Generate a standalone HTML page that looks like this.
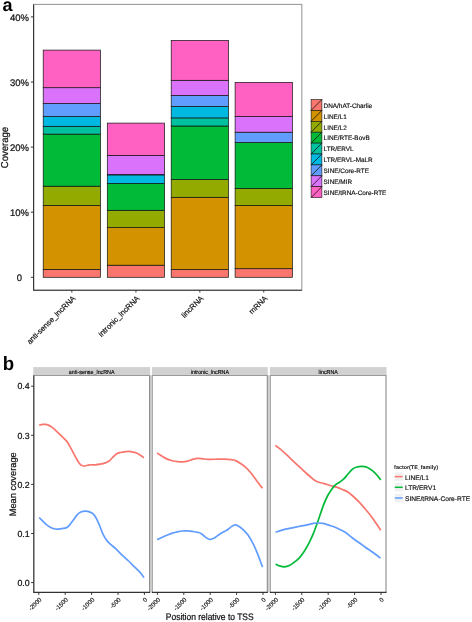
<!DOCTYPE html>
<html><head><meta charset="utf-8"><title>figure</title>
<style>
html,body{margin:0;padding:0;background:#fff;}
body{width:472px;height:622px;overflow:hidden;}
svg{display:block;filter:blur(0.35px);font-family:"Liberation Sans", sans-serif;text-rendering:geometricPrecision;}
</style></head>
<body>
<svg width="472" height="622" viewBox="0 0 472 622">
<rect width="472" height="622" fill="#fff"/>
<rect x="33.6" y="4.4" width="268.2" height="285.8" fill="#fff" stroke="#9a9a9a" stroke-width="1.1"/>
<rect x="43.2" y="269.4" width="57.3" height="7.9" fill="#F8766D" stroke="#111" stroke-width="0.7"/>
<rect x="43.2" y="205.4" width="57.3" height="64" fill="#D39200" stroke="#111" stroke-width="0.7"/>
<rect x="43.2" y="186.2" width="57.3" height="19.2" fill="#93AA00" stroke="#111" stroke-width="0.7"/>
<rect x="43.2" y="134.1" width="57.3" height="52.1" fill="#00BA38" stroke="#111" stroke-width="0.7"/>
<rect x="43.2" y="126.3" width="57.3" height="7.8" fill="#00C19F" stroke="#111" stroke-width="0.7"/>
<rect x="43.2" y="116.5" width="57.3" height="9.8" fill="#00B9E3" stroke="#111" stroke-width="0.7"/>
<rect x="43.2" y="103.5" width="57.3" height="13" fill="#619CFF" stroke="#111" stroke-width="0.7"/>
<rect x="43.2" y="87.7" width="57.3" height="15.8" fill="#DB72FB" stroke="#111" stroke-width="0.7"/>
<rect x="43.2" y="50.1" width="57.3" height="37.6" fill="#FF61C3" stroke="#111" stroke-width="0.7"/>
<rect x="107.3" y="265.2" width="57.3" height="12.1" fill="#F8766D" stroke="#111" stroke-width="0.7"/>
<rect x="107.3" y="227.6" width="57.3" height="37.6" fill="#D39200" stroke="#111" stroke-width="0.7"/>
<rect x="107.3" y="210.3" width="57.3" height="17.3" fill="#93AA00" stroke="#111" stroke-width="0.7"/>
<rect x="107.3" y="183.4" width="57.3" height="26.9" fill="#00BA38" stroke="#111" stroke-width="0.7"/>
<rect x="107.3" y="174.9" width="57.3" height="8.5" fill="#00B9E3" stroke="#111" stroke-width="0.7"/>
<rect x="107.3" y="174.6" width="57.3" height="0.3" fill="#619CFF" stroke="#111" stroke-width="0.7"/>
<rect x="107.3" y="155.4" width="57.3" height="19.2" fill="#DB72FB" stroke="#111" stroke-width="0.7"/>
<rect x="107.3" y="123.1" width="57.3" height="32.3" fill="#FF61C3" stroke="#111" stroke-width="0.7"/>
<rect x="171.2" y="269.6" width="57.3" height="7.7" fill="#F8766D" stroke="#111" stroke-width="0.7"/>
<rect x="171.2" y="197.3" width="57.3" height="72.3" fill="#D39200" stroke="#111" stroke-width="0.7"/>
<rect x="171.2" y="179.5" width="57.3" height="17.8" fill="#93AA00" stroke="#111" stroke-width="0.7"/>
<rect x="171.2" y="126" width="57.3" height="53.5" fill="#00BA38" stroke="#111" stroke-width="0.7"/>
<rect x="171.2" y="117.9" width="57.3" height="8.1" fill="#00C19F" stroke="#111" stroke-width="0.7"/>
<rect x="171.2" y="106.4" width="57.3" height="11.5" fill="#00B9E3" stroke="#111" stroke-width="0.7"/>
<rect x="171.2" y="95.4" width="57.3" height="11" fill="#619CFF" stroke="#111" stroke-width="0.7"/>
<rect x="171.2" y="80.3" width="57.3" height="15.1" fill="#DB72FB" stroke="#111" stroke-width="0.7"/>
<rect x="171.2" y="40.4" width="57.3" height="39.9" fill="#FF61C3" stroke="#111" stroke-width="0.7"/>
<rect x="235.1" y="268.7" width="57.3" height="8.6" fill="#F8766D" stroke="#111" stroke-width="0.7"/>
<rect x="235.1" y="205.5" width="57.3" height="63.2" fill="#D39200" stroke="#111" stroke-width="0.7"/>
<rect x="235.1" y="188.5" width="57.3" height="17" fill="#93AA00" stroke="#111" stroke-width="0.7"/>
<rect x="235.1" y="142.5" width="57.3" height="46" fill="#00BA38" stroke="#111" stroke-width="0.7"/>
<rect x="235.1" y="132.2" width="57.3" height="10.3" fill="#619CFF" stroke="#111" stroke-width="0.7"/>
<rect x="235.1" y="116.5" width="57.3" height="15.7" fill="#DB72FB" stroke="#111" stroke-width="0.7"/>
<rect x="235.1" y="82.4" width="57.3" height="34.1" fill="#FF61C3" stroke="#111" stroke-width="0.7"/>
<path d="M33.6,4.4 V290.2 H301.8" fill="none" stroke="#333333" stroke-width="1.1"/>
<line x1="30.9" y1="277.3" x2="33.6" y2="277.3" stroke="#333333" stroke-width="1"/>
<text x="19.4" y="281.1" font-size="9.5" text-anchor="middle" fill="#111111" stroke="#111111" stroke-width="0.23">0</text>
<line x1="30.9" y1="212.2" x2="33.6" y2="212.2" stroke="#333333" stroke-width="1"/>
<text x="19.4" y="216" font-size="9.5" text-anchor="middle" fill="#111111" stroke="#111111" stroke-width="0.23">10%</text>
<line x1="30.9" y1="147.1" x2="33.6" y2="147.1" stroke="#333333" stroke-width="1"/>
<text x="19.4" y="150.9" font-size="9.5" text-anchor="middle" fill="#111111" stroke="#111111" stroke-width="0.23">20%</text>
<line x1="30.9" y1="82" x2="33.6" y2="82" stroke="#333333" stroke-width="1"/>
<text x="19.4" y="85.8" font-size="9.5" text-anchor="middle" fill="#111111" stroke="#111111" stroke-width="0.23">30%</text>
<line x1="30.9" y1="16.9" x2="33.6" y2="16.9" stroke="#333333" stroke-width="1"/>
<text x="19.4" y="20.7" font-size="9.5" text-anchor="middle" fill="#111111" stroke="#111111" stroke-width="0.23">40%</text>
<text x="8.4" y="147.5" font-size="10" text-anchor="middle" fill="#111111" stroke="#111111" stroke-width="0.24" transform="rotate(-90 8.4 147.5)" textLength="41.3" lengthAdjust="spacingAndGlyphs">Coverage</text>
<line x1="71.85" y1="290.2" x2="71.85" y2="292.5" stroke="#333333" stroke-width="1"/>
<text x="75.85" y="298.8" font-size="7.6" text-anchor="end" fill="#111111" stroke="#111111" stroke-width="0.19" transform="rotate(-45 75.85 298.8)">anti-sense_lncRNA</text>
<line x1="135.95" y1="290.2" x2="135.95" y2="292.5" stroke="#333333" stroke-width="1"/>
<text x="139.95" y="298.8" font-size="7.6" text-anchor="end" fill="#111111" stroke="#111111" stroke-width="0.19" transform="rotate(-45 139.95 298.8)">intronic_lncRNA</text>
<line x1="199.85" y1="290.2" x2="199.85" y2="292.5" stroke="#333333" stroke-width="1"/>
<text x="203.85" y="298.8" font-size="7.6" text-anchor="end" fill="#111111" stroke="#111111" stroke-width="0.19" transform="rotate(-45 203.85 298.8)">lincRNA</text>
<line x1="263.75" y1="290.2" x2="263.75" y2="292.5" stroke="#333333" stroke-width="1"/>
<text x="267.75" y="298.8" font-size="7.6" text-anchor="end" fill="#111111" stroke="#111111" stroke-width="0.19" transform="rotate(-45 267.75 298.8)">mRNA</text>
<rect x="311.1" y="99.5" width="10.8" height="10.9" fill="#F8766D" stroke="#111" stroke-width="0.6"/>
<line x1="311.1" y1="110.4" x2="321.9" y2="99.5" stroke="#111" stroke-width="0.8"/>
<text x="323.6" y="107.75" font-size="6.4" text-anchor="start" fill="#111111" stroke="#111111" stroke-width="0.16">DNA/hAT-Charlie</text>
<rect x="311.1" y="110.4" width="10.8" height="10.9" fill="#D39200" stroke="#111" stroke-width="0.6"/>
<line x1="311.1" y1="121.3" x2="321.9" y2="110.4" stroke="#111" stroke-width="0.8"/>
<text x="323.6" y="118.65" font-size="6.4" text-anchor="start" fill="#111111" stroke="#111111" stroke-width="0.16">LINE/L1</text>
<rect x="311.1" y="121.3" width="10.8" height="10.9" fill="#93AA00" stroke="#111" stroke-width="0.6"/>
<line x1="311.1" y1="132.2" x2="321.9" y2="121.3" stroke="#111" stroke-width="0.8"/>
<text x="323.6" y="129.55" font-size="6.4" text-anchor="start" fill="#111111" stroke="#111111" stroke-width="0.16">LINE/L2</text>
<rect x="311.1" y="132.2" width="10.8" height="10.9" fill="#00BA38" stroke="#111" stroke-width="0.6"/>
<line x1="311.1" y1="143.1" x2="321.9" y2="132.2" stroke="#111" stroke-width="0.8"/>
<text x="323.6" y="140.45" font-size="6.4" text-anchor="start" fill="#111111" stroke="#111111" stroke-width="0.16">LINE/RTE-BovB</text>
<rect x="311.1" y="143.1" width="10.8" height="10.9" fill="#00C19F" stroke="#111" stroke-width="0.6"/>
<line x1="311.1" y1="154" x2="321.9" y2="143.1" stroke="#111" stroke-width="0.8"/>
<text x="323.6" y="151.35" font-size="6.4" text-anchor="start" fill="#111111" stroke="#111111" stroke-width="0.16">LTR/ERVL</text>
<rect x="311.1" y="154" width="10.8" height="10.9" fill="#00B9E3" stroke="#111" stroke-width="0.6"/>
<line x1="311.1" y1="164.9" x2="321.9" y2="154" stroke="#111" stroke-width="0.8"/>
<text x="323.6" y="162.25" font-size="6.4" text-anchor="start" fill="#111111" stroke="#111111" stroke-width="0.16">LTR/ERVL-MaLR</text>
<rect x="311.1" y="164.9" width="10.8" height="10.9" fill="#619CFF" stroke="#111" stroke-width="0.6"/>
<line x1="311.1" y1="175.8" x2="321.9" y2="164.9" stroke="#111" stroke-width="0.8"/>
<text x="323.6" y="173.15" font-size="6.4" text-anchor="start" fill="#111111" stroke="#111111" stroke-width="0.16">SINE/Core-RTE</text>
<rect x="311.1" y="175.8" width="10.8" height="10.9" fill="#DB72FB" stroke="#111" stroke-width="0.6"/>
<line x1="311.1" y1="186.7" x2="321.9" y2="175.8" stroke="#111" stroke-width="0.8"/>
<text x="323.6" y="184.05" font-size="6.4" text-anchor="start" fill="#111111" stroke="#111111" stroke-width="0.16">SINE/MIR</text>
<rect x="311.1" y="186.7" width="10.8" height="10.9" fill="#FF61C3" stroke="#111" stroke-width="0.6"/>
<line x1="311.1" y1="197.6" x2="321.9" y2="186.7" stroke="#111" stroke-width="0.8"/>
<text x="323.6" y="194.95" font-size="6.4" text-anchor="start" fill="#111111" stroke="#111111" stroke-width="0.16">SINE/tRNA-Core-RTE</text>
<text x="2.4" y="11.3" font-size="18" text-anchor="start" font-weight="bold" fill="#000">a</text>
<rect x="149.6" y="375.5" width="2.8" height="216.9" fill="#d2d2d2"/>
<rect x="267.3" y="375.5" width="3.1" height="216.9" fill="#d2d2d2"/>
<rect x="33.3" y="367.1" width="116.8" height="8.4" fill="#d1d1d1"/>
<text x="0" y="0" font-size="5.8" text-anchor="middle" fill="#000" stroke="#000" stroke-width="0.14" transform="translate(91.7 373.5) scale(0.92 1)">anti-sense_lncRNA</text>
<rect x="33.8" y="375.5" width="115.8" height="216.9" fill="#fff"/>
<line x1="33.8" y1="375.5" x2="33.8" y2="592.4" stroke="#a8a8a8" stroke-width="1.1"/>
<line x1="149.6" y1="375.5" x2="149.6" y2="592.4" stroke="#8a8a8a" stroke-width="1.1"/>
<line x1="33.25" y1="375.5" x2="150.15" y2="375.5" stroke="#999" stroke-width="1.1"/>
<rect x="151.9" y="367.1" width="115.9" height="8.4" fill="#d1d1d1"/>
<text x="0" y="0" font-size="5.8" text-anchor="middle" fill="#000" stroke="#000" stroke-width="0.14" transform="translate(209.85 373.5) scale(0.92 1)">intronic_lncRNA</text>
<rect x="152.4" y="375.5" width="114.9" height="216.9" fill="#fff"/>
<line x1="152.4" y1="375.5" x2="152.4" y2="592.4" stroke="#a8a8a8" stroke-width="1.1"/>
<line x1="267.3" y1="375.5" x2="267.3" y2="592.4" stroke="#8a8a8a" stroke-width="1.1"/>
<line x1="151.85" y1="375.5" x2="267.85" y2="375.5" stroke="#999" stroke-width="1.1"/>
<rect x="269.9" y="367.1" width="116.6" height="8.4" fill="#d1d1d1"/>
<text x="0" y="0" font-size="5.8" text-anchor="middle" fill="#000" stroke="#000" stroke-width="0.14" transform="translate(328.2 373.5) scale(0.92 1)">lincRNA</text>
<rect x="270.4" y="375.5" width="115.6" height="216.9" fill="#fff"/>
<line x1="270.4" y1="375.5" x2="270.4" y2="592.4" stroke="#a8a8a8" stroke-width="1.1"/>
<line x1="386" y1="375.5" x2="386" y2="592.4" stroke="#8a8a8a" stroke-width="1.1"/>
<line x1="269.85" y1="375.5" x2="386.55" y2="375.5" stroke="#999" stroke-width="1.1"/>
<path d="M39.2,425.1 C39.77,424.98 41.6,424.52 42.6,424.4 C43.6,424.28 44.25,424.28 45.2,424.4 C46.15,424.52 47.25,424.68 48.3,425.1 C49.35,425.52 50.33,426.07 51.5,426.9 C52.67,427.73 53.92,428.87 55.3,430.1 C56.68,431.33 58.2,432.75 59.8,434.3 C61.4,435.85 63.63,438.08 64.9,439.4 C66.17,440.72 66.55,441 67.4,442.2 C68.25,443.4 69.05,444.92 70,446.6 C70.95,448.28 72.05,450.33 73.1,452.3 C74.15,454.27 75.33,456.67 76.3,458.4 C77.27,460.13 78.05,461.55 78.9,462.7 C79.75,463.85 80.57,464.75 81.4,465.3 C82.23,465.85 83.05,465.97 83.9,466 C84.75,466.03 85.53,465.7 86.5,465.5 C87.47,465.3 88.27,464.92 89.7,464.8 C91.13,464.68 93.35,464.9 95.1,464.8 C96.85,464.7 98.5,464.52 100.2,464.2 C101.9,463.88 103.82,463.43 105.3,462.9 C106.78,462.37 107.83,461.95 109.1,461 C110.37,460.05 111.63,458.42 112.9,457.2 C114.17,455.98 115.43,454.48 116.7,453.7 C117.97,452.92 119.02,452.83 120.5,452.5 C121.98,452.17 124.12,451.88 125.6,451.7 C127.08,451.52 128.13,451.33 129.4,451.4 C130.67,451.47 131.93,451.78 133.2,452.1 C134.47,452.42 135.73,452.73 137,453.3 C138.27,453.87 139.63,454.75 140.8,455.5 C141.97,456.25 143.47,457.42 144,457.8" fill="none" stroke="#F8766D" stroke-width="1.7" stroke-linecap="butt" stroke-linejoin="round"/>
<path d="M39.2,517.5 C39.77,518.07 41.4,519.7 42.6,520.9 C43.8,522.1 45.12,523.65 46.4,524.7 C47.68,525.75 49.02,526.52 50.3,527.2 C51.58,527.88 52.95,528.47 54.1,528.8 C55.25,529.13 55.93,529.23 57.2,529.2 C58.47,529.17 60.22,528.82 61.7,528.6 C63.18,528.38 64.83,528.45 66.1,527.9 C67.37,527.35 68.13,526.57 69.3,525.3 C70.47,524.03 71.83,521.98 73.1,520.3 C74.37,518.62 75.62,516.58 76.9,515.2 C78.18,513.82 79.32,512.68 80.8,512 C82.28,511.32 84.27,511.08 85.8,511.1 C87.33,511.12 88.65,511.52 90,512.1 C91.35,512.68 92.72,513.32 93.9,514.6 C95.08,515.88 96.03,517.65 97.1,519.8 C98.17,521.95 99.23,524.93 100.3,527.5 C101.37,530.07 102.43,533.05 103.5,535.2 C104.57,537.35 105.42,538.78 106.7,540.4 C107.98,542.02 109.7,543.52 111.2,544.9 C112.7,546.28 113.87,546.98 115.7,548.7 C117.53,550.42 120.05,553.15 122.2,555.2 C124.35,557.25 126.47,558.97 128.6,561 C130.73,563.03 132.97,565.37 135,567.4 C137.03,569.43 139.3,571.48 140.8,573.2 C142.3,574.92 143.47,576.95 144,577.7" fill="none" stroke="#619CFF" stroke-width="1.7" stroke-linecap="butt" stroke-linejoin="round"/>
<path d="M157.1,453 C157.95,453.55 160.5,455.28 162.2,456.3 C163.9,457.32 165.62,458.37 167.3,459.1 C168.98,459.83 170.62,460.28 172.3,460.7 C173.98,461.12 175.7,461.4 177.4,461.6 C179.1,461.8 180.8,461.97 182.5,461.9 C184.2,461.83 185.9,461.62 187.6,461.2 C189.3,460.78 191,459.87 192.7,459.4 C194.4,458.93 196.12,458.5 197.8,458.4 C199.48,458.3 201.12,458.65 202.8,458.8 C204.48,458.95 206.47,459.2 207.9,459.3 C209.33,459.4 209.77,459.43 211.4,459.4 C213.03,459.37 215.58,459.15 217.7,459.1 C219.82,459.05 221.98,459.02 224.1,459.1 C226.22,459.18 228.5,459.35 230.4,459.6 C232.3,459.85 233.8,459.95 235.5,460.6 C237.2,461.25 238.9,462.38 240.6,463.5 C242.3,464.62 244,465.75 245.7,467.3 C247.4,468.85 249.12,470.78 250.8,472.8 C252.48,474.82 254.32,477.42 255.8,479.4 C257.28,481.38 258.58,483.22 259.7,484.7 C260.82,486.18 262.03,487.7 262.5,488.3" fill="none" stroke="#F8766D" stroke-width="1.7" stroke-linecap="butt" stroke-linejoin="round"/>
<path d="M157.1,539.8 C157.95,539.37 160.5,538 162.2,537.2 C163.9,536.4 165.62,535.68 167.3,535 C168.98,534.32 170.62,533.63 172.3,533.1 C173.98,532.57 175.7,532.15 177.4,531.8 C179.1,531.45 180.8,531.15 182.5,531 C184.2,530.85 185.9,530.82 187.6,530.9 C189.3,530.98 191,531.25 192.7,531.5 C194.4,531.75 196.43,532.08 197.8,532.4 C199.17,532.72 199.85,532.8 200.9,533.4 C201.95,534 203,535.15 204.1,536 C205.2,536.85 206.5,537.93 207.5,538.5 C208.5,539.07 209.03,539.43 210.1,539.4 C211.17,539.37 212.63,538.93 213.9,538.3 C215.17,537.67 216.22,536.62 217.7,535.6 C219.18,534.58 221.22,533.13 222.8,532.2 C224.38,531.27 225.72,530.97 227.2,530 C228.68,529.03 230.38,527.25 231.7,526.4 C233.02,525.55 233.93,524.93 235.1,524.9 C236.27,524.87 237.37,525.42 238.7,526.2 C240.03,526.98 241.52,528.08 243.1,529.6 C244.68,531.12 246.5,532.87 248.2,535.3 C249.9,537.73 251.7,541.02 253.3,544.2 C254.9,547.38 256.53,551.32 257.8,554.4 C259.07,557.48 260.1,560.58 260.9,562.7 C261.7,564.82 262.32,566.37 262.6,567.1" fill="none" stroke="#619CFF" stroke-width="1.7" stroke-linecap="butt" stroke-linejoin="round"/>
<path d="M275.4,445.4 C276.22,446.03 278.63,447.82 280.3,449.2 C281.97,450.58 283.68,452.13 285.4,453.7 C287.12,455.27 288.88,456.98 290.6,458.6 C292.32,460.22 293.98,461.82 295.7,463.4 C297.42,464.98 299.18,466.5 300.9,468.1 C302.62,469.7 304.28,471.43 306,473 C307.72,474.57 309.7,476.25 311.2,477.5 C312.7,478.75 313.72,479.7 315,480.5 C316.28,481.3 317.4,481.78 318.9,482.3 C320.4,482.82 322.02,483.03 324,483.6 C325.98,484.17 328.7,485.12 330.8,485.7 C332.9,486.28 334.67,486.48 336.6,487.1 C338.53,487.72 340.47,488.53 342.4,489.4 C344.33,490.27 346.28,491.03 348.2,492.3 C350.12,493.57 351.98,495.27 353.9,497 C355.82,498.73 357.77,500.65 359.7,502.7 C361.63,504.75 363.57,507 365.5,509.3 C367.43,511.6 369.48,514.1 371.3,516.5 C373.12,518.9 374.83,521.42 376.4,523.7 C377.97,525.98 379.98,529.12 380.7,530.2" fill="none" stroke="#F8766D" stroke-width="1.7" stroke-linecap="butt" stroke-linejoin="round"/>
<path d="M275.6,564 C276.27,564.32 278.12,565.43 279.6,565.9 C281.08,566.37 282.88,566.85 284.5,566.8 C286.12,566.75 287.7,566.35 289.3,565.6 C290.9,564.85 292.5,563.52 294.1,562.3 C295.7,561.08 297.28,560.03 298.9,558.3 C300.52,556.57 302.18,554.3 303.8,551.9 C305.42,549.5 307,546.98 308.6,543.9 C310.2,540.82 311.8,537.3 313.4,533.4 C315,529.5 316.58,525.05 318.2,520.5 C319.82,515.95 321.55,510.18 323.1,506.1 C324.65,502.02 326.1,498.73 327.5,496 C328.9,493.27 330.23,491.52 331.5,489.7 C332.77,487.88 333.77,486.35 335.1,485.1 C336.43,483.85 338.05,483.23 339.5,482.2 C340.95,481.17 342.35,480.3 343.8,478.9 C345.25,477.5 346.75,475.42 348.2,473.8 C349.65,472.18 351.07,470.33 352.5,469.2 C353.93,468.07 355.23,467.48 356.8,467 C358.37,466.52 360.2,466.25 361.9,466.3 C363.6,466.35 365.2,466.53 367,467.3 C368.8,468.07 371.02,469.57 372.7,470.9 C374.38,472.23 375.77,473.8 377.1,475.3 C378.43,476.8 380.1,479.13 380.7,479.9" fill="none" stroke="#00BA38" stroke-width="1.7" stroke-linecap="butt" stroke-linejoin="round"/>
<path d="M275.6,532.1 C276.82,531.73 280.35,530.57 282.9,529.9 C285.45,529.23 288.23,528.67 290.9,528.1 C293.57,527.53 296.22,527.03 298.9,526.5 C301.58,525.97 304.58,525.42 307,524.9 C309.42,524.38 311.67,523.72 313.4,523.4 C315.13,523.08 315.78,523 317.4,523 C319.02,523 321.08,523 323.1,523.4 C325.12,523.8 327.52,524.75 329.5,525.4 C331.48,526.05 333.1,526.53 335,527.3 C336.9,528.07 339.18,529.17 340.9,530 C342.62,530.83 343.72,531.23 345.3,532.3 C346.88,533.37 348.7,535.08 350.4,536.4 C352.1,537.72 353.8,538.98 355.5,540.2 C357.2,541.42 358.9,542.48 360.6,543.7 C362.3,544.92 364,546.28 365.7,547.5 C367.4,548.72 369.12,549.83 370.8,551 C372.48,552.17 374.18,553.3 375.8,554.5 C377.42,555.7 379.72,557.58 380.5,558.2" fill="none" stroke="#619CFF" stroke-width="1.7" stroke-linecap="butt" stroke-linejoin="round"/>
<line x1="33.8" y1="375.5" x2="33.8" y2="592.4" stroke="#333333" stroke-width="1.1"/>
<line x1="33.3" y1="592.4" x2="150.1" y2="592.4" stroke="#333333" stroke-width="1.1"/>
<line x1="151.9" y1="592.4" x2="267.8" y2="592.4" stroke="#333333" stroke-width="1.1"/>
<line x1="269.9" y1="592.4" x2="386.5" y2="592.4" stroke="#333333" stroke-width="1.1"/>
<line x1="31.1" y1="582.6" x2="33.8" y2="582.6" stroke="#333333" stroke-width="1"/>
<text x="23.6" y="585.8" font-size="8.8" text-anchor="middle" fill="#111111" stroke="#111111" stroke-width="0.22">0.0</text>
<line x1="31.1" y1="533.5" x2="33.8" y2="533.5" stroke="#333333" stroke-width="1"/>
<text x="23.6" y="536.7" font-size="8.8" text-anchor="middle" fill="#111111" stroke="#111111" stroke-width="0.22">0.1</text>
<line x1="31.1" y1="484.4" x2="33.8" y2="484.4" stroke="#333333" stroke-width="1"/>
<text x="23.6" y="487.6" font-size="8.8" text-anchor="middle" fill="#111111" stroke="#111111" stroke-width="0.22">0.2</text>
<line x1="31.1" y1="435.3" x2="33.8" y2="435.3" stroke="#333333" stroke-width="1"/>
<text x="23.6" y="438.5" font-size="8.8" text-anchor="middle" fill="#111111" stroke="#111111" stroke-width="0.22">0.3</text>
<line x1="31.1" y1="386.2" x2="33.8" y2="386.2" stroke="#333333" stroke-width="1"/>
<text x="23.6" y="389.4" font-size="8.8" text-anchor="middle" fill="#111111" stroke="#111111" stroke-width="0.22">0.4</text>
<text x="16.5" y="484.3" font-size="9.3" text-anchor="middle" fill="#111111" stroke="#111111" stroke-width="0.23" transform="rotate(-90 16.5 484.3)">Mean coverage</text>
<line x1="38.8" y1="592.4" x2="38.8" y2="594.9" stroke="#333333" stroke-width="1"/>
<text x="42" y="600" font-size="6.1" text-anchor="end" fill="#111111" stroke="#111111" stroke-width="0.15" transform="rotate(-45 42 600)">-2000</text>
<line x1="65.2" y1="592.4" x2="65.2" y2="594.9" stroke="#333333" stroke-width="1"/>
<text x="68.4" y="600" font-size="6.1" text-anchor="end" fill="#111111" stroke="#111111" stroke-width="0.15" transform="rotate(-45 68.4 600)">-1500</text>
<line x1="91.6" y1="592.4" x2="91.6" y2="594.9" stroke="#333333" stroke-width="1"/>
<text x="94.8" y="600" font-size="6.1" text-anchor="end" fill="#111111" stroke="#111111" stroke-width="0.15" transform="rotate(-45 94.8 600)">-1000</text>
<line x1="118" y1="592.4" x2="118" y2="594.9" stroke="#333333" stroke-width="1"/>
<text x="121.2" y="600" font-size="6.1" text-anchor="end" fill="#111111" stroke="#111111" stroke-width="0.15" transform="rotate(-45 121.2 600)">-500</text>
<line x1="144.4" y1="592.4" x2="144.4" y2="594.9" stroke="#333333" stroke-width="1"/>
<text x="147.6" y="600" font-size="6.1" text-anchor="end" fill="#111111" stroke="#111111" stroke-width="0.15" transform="rotate(-45 147.6 600)">0</text>
<line x1="157.4" y1="592.4" x2="157.4" y2="594.9" stroke="#333333" stroke-width="1"/>
<text x="160.6" y="600" font-size="6.1" text-anchor="end" fill="#111111" stroke="#111111" stroke-width="0.15" transform="rotate(-45 160.6 600)">-2000</text>
<line x1="183.8" y1="592.4" x2="183.8" y2="594.9" stroke="#333333" stroke-width="1"/>
<text x="187" y="600" font-size="6.1" text-anchor="end" fill="#111111" stroke="#111111" stroke-width="0.15" transform="rotate(-45 187 600)">-1500</text>
<line x1="210.2" y1="592.4" x2="210.2" y2="594.9" stroke="#333333" stroke-width="1"/>
<text x="213.4" y="600" font-size="6.1" text-anchor="end" fill="#111111" stroke="#111111" stroke-width="0.15" transform="rotate(-45 213.4 600)">-1000</text>
<line x1="236.6" y1="592.4" x2="236.6" y2="594.9" stroke="#333333" stroke-width="1"/>
<text x="239.8" y="600" font-size="6.1" text-anchor="end" fill="#111111" stroke="#111111" stroke-width="0.15" transform="rotate(-45 239.8 600)">-500</text>
<line x1="263" y1="592.4" x2="263" y2="594.9" stroke="#333333" stroke-width="1"/>
<text x="266.2" y="600" font-size="6.1" text-anchor="end" fill="#111111" stroke="#111111" stroke-width="0.15" transform="rotate(-45 266.2 600)">0</text>
<line x1="275.4" y1="592.4" x2="275.4" y2="594.9" stroke="#333333" stroke-width="1"/>
<text x="278.6" y="600" font-size="6.1" text-anchor="end" fill="#111111" stroke="#111111" stroke-width="0.15" transform="rotate(-45 278.6 600)">-2000</text>
<line x1="301.8" y1="592.4" x2="301.8" y2="594.9" stroke="#333333" stroke-width="1"/>
<text x="305" y="600" font-size="6.1" text-anchor="end" fill="#111111" stroke="#111111" stroke-width="0.15" transform="rotate(-45 305 600)">-1500</text>
<line x1="328.2" y1="592.4" x2="328.2" y2="594.9" stroke="#333333" stroke-width="1"/>
<text x="331.4" y="600" font-size="6.1" text-anchor="end" fill="#111111" stroke="#111111" stroke-width="0.15" transform="rotate(-45 331.4 600)">-1000</text>
<line x1="354.6" y1="592.4" x2="354.6" y2="594.9" stroke="#333333" stroke-width="1"/>
<text x="357.8" y="600" font-size="6.1" text-anchor="end" fill="#111111" stroke="#111111" stroke-width="0.15" transform="rotate(-45 357.8 600)">-500</text>
<line x1="381" y1="592.4" x2="381" y2="594.9" stroke="#333333" stroke-width="1"/>
<text x="384.2" y="600" font-size="6.1" text-anchor="end" fill="#111111" stroke="#111111" stroke-width="0.15" transform="rotate(-45 384.2 600)">0</text>
<text x="209.7" y="620.3" font-size="9.4" text-anchor="middle" fill="#111111" stroke="#111111" stroke-width="0.23" textLength="87.8" lengthAdjust="spacingAndGlyphs">Position relative to TSS</text>
<text x="394.1" y="469" font-size="5.4" text-anchor="start" font-weight="bold" fill="#111">factor(TE_family)</text>
<rect x="394.4" y="472.1" width="8.7" height="9" fill="#f0f0f0" stroke="#fff" stroke-width="0.5"/>
<line x1="394.8" y1="476.6" x2="402.7" y2="476.6" stroke="#F8766D" stroke-width="1.5"/>
<text x="405" y="479.55" font-size="6.65" text-anchor="start" fill="#111111" stroke="#111111" stroke-width="0.16">LINE/L1</text>
<rect x="394.4" y="482.8" width="8.7" height="9" fill="#f0f0f0" stroke="#fff" stroke-width="0.5"/>
<line x1="394.8" y1="487.3" x2="402.7" y2="487.3" stroke="#00BA38" stroke-width="1.5"/>
<text x="405" y="490.25" font-size="6.65" text-anchor="start" fill="#111111" stroke="#111111" stroke-width="0.16">LTR/ERV1</text>
<rect x="394.4" y="493.5" width="8.7" height="9" fill="#f0f0f0" stroke="#fff" stroke-width="0.5"/>
<line x1="394.8" y1="498" x2="402.7" y2="498" stroke="#619CFF" stroke-width="1.5"/>
<text x="405" y="500.95" font-size="6.65" text-anchor="start" fill="#111111" stroke="#111111" stroke-width="0.16">SINE/tRNA-Core-RTE</text>
<text x="0" y="0" font-size="19.2" font-weight="bold" fill="#000" transform="translate(2.8 369.8) scale(0.97 1)">b</text>
</svg>
</body></html>
